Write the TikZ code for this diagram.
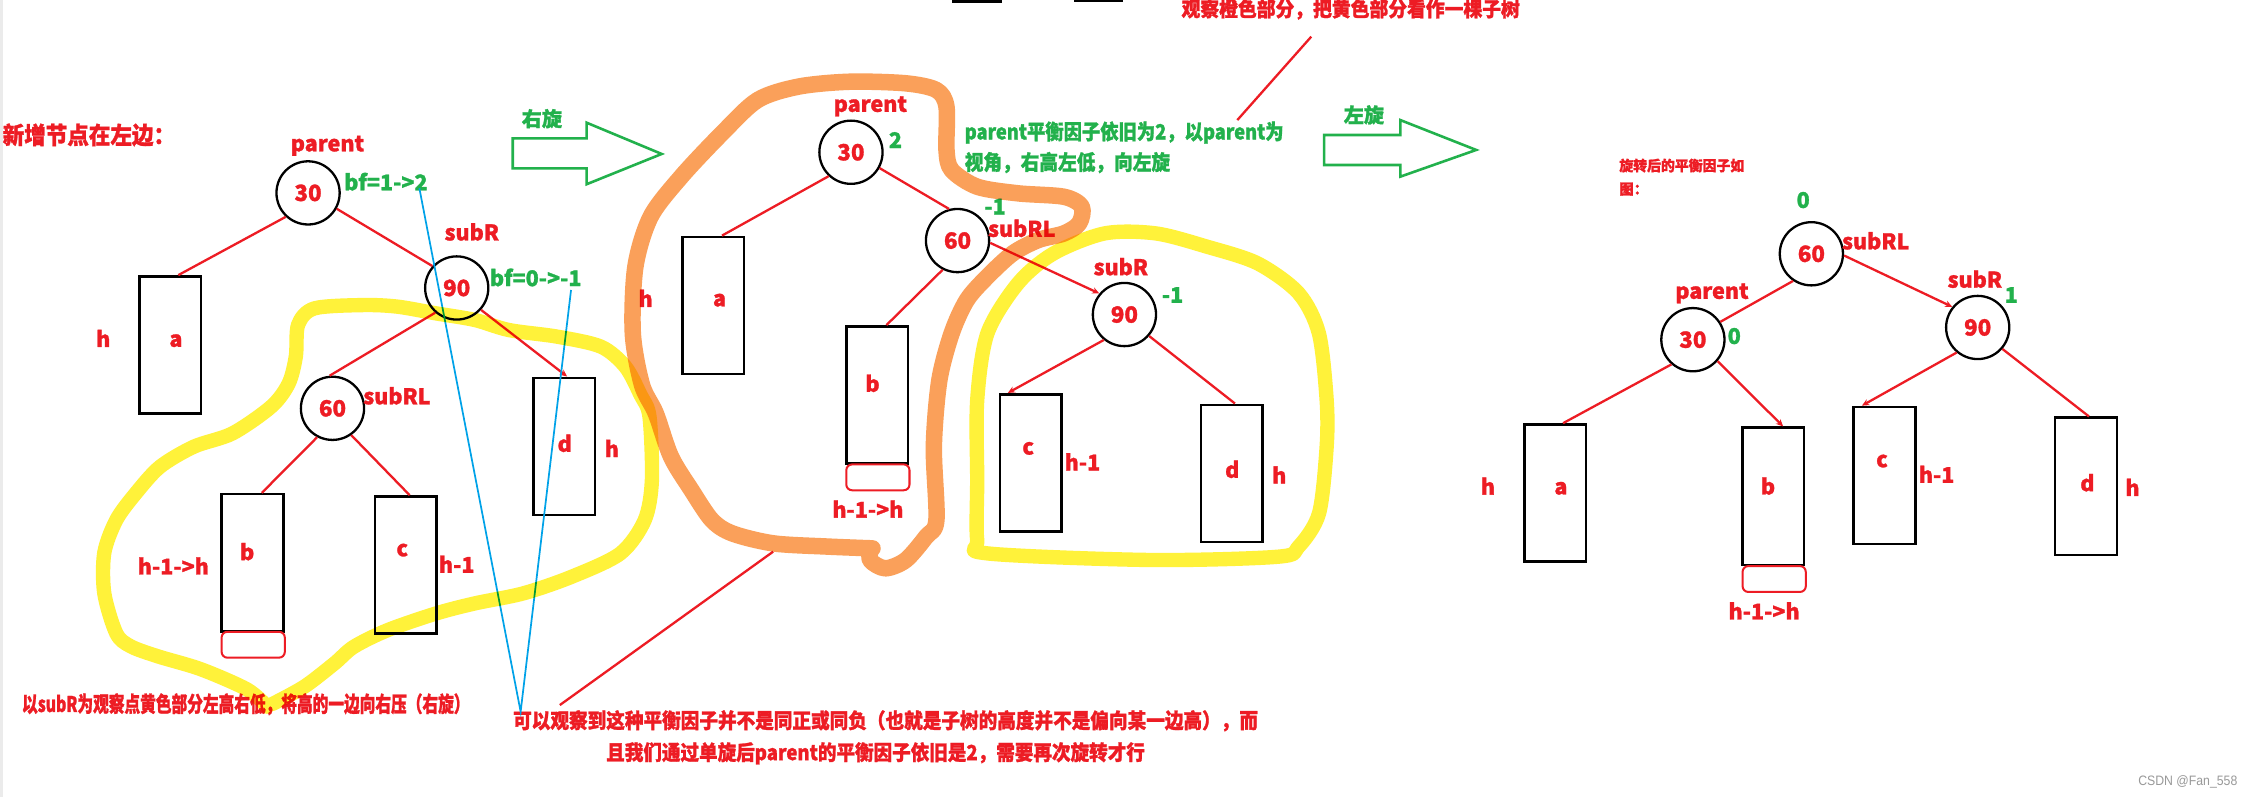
\documentclass[tikz,border=0pt]{standalone}
\usepackage{fontspec}
\setmainfont{Noto Sans CJK SC}[BoldFeatures={FakeBold=1.3}]
\newfontfamily\wmfont{Liberation Sans}
\usepackage{graphicx}
\usetikzlibrary{arrows.meta}
\definecolor{pred}{RGB}{237,28,36}
\definecolor{pgreen}{RGB}{34,177,76}
\definecolor{pyellow}{RGB}{255,242,58}
\definecolor{porange}{RGB}{250,160,90}
\definecolor{pblue}{RGB}{0,162,232}
\newcommand\fitx[2]{\resizebox{#1}{\height}{#2}}
\begin{document}
\begin{tikzpicture}[x=1pt,y=-1pt,
  lab/.style={text=pred,font=\bfseries\fontsize{15}{15}\selectfont,inner sep=0pt},
  glab/.style={lab,text=pgreen},
  tnode/.style={circle,draw=black,line width=1.6pt,minimum size=44pt,inner sep=0pt,text=pred,font=\bfseries\fontsize{15.5}{15.5}\selectfont},
  sbox/.style={draw=black,line width=1.8pt,minimum width=43pt,minimum height=95.5pt,inner sep=0pt},
  rbox/.style={draw=pred,line width=1.4pt,rounded corners=4pt,minimum width=44pt,minimum height=18pt,inner sep=0pt},
  redline/.style={draw=pred,line width=1.6pt},
  arr/.style={redline,-{Stealth[length=5pt,width=4.5pt]}},
  note/.style={anchor=west,inner sep=0pt,text=pred},
  hl/.style={line width=10pt,line cap=round,line join=round},
]
\useasboundingbox (0,0) rectangle (1568,555);
\fill[white] (0,0) rectangle (1568,555);
\draw[black!8, line width=2pt] (1,0) -- (1,555);
\fill[black] (662.6,0) rectangle (698,2.2);
\fill[black] (748,0) rectangle (781.6,1.2);

% ---------- texts ----------
\node[note,font=\bfseries\fontsize{16.5}{16.5}\selectfont] (title) at (1.7,94) {\fitx{120pt}{新增节点在左边：}};
\node[note,font=\bfseries\fontsize{15}{15}\selectfont] (note1) at (15.2,490.4) {\fitx{311.5pt}{以subR为观察点黄色部分左高右低，将高的一边向右压（右旋）}};
\node[note,font=\bfseries\fontsize{14.5}{14.5}\selectfont] (note2) at (357.1,501.9) {\fitx{518.6pt}{可以观察到这种平衡因子并不是同正或同负（也就是子树的高度并不是偏向某一边高），而}};
\node[note,font=\bfseries\fontsize{14.5}{14.5}\selectfont] (note3) at (421.9,524.5) {\fitx{375pt}{且我们通过单旋后parent的平衡因子依旧是2，需要再次旋转才行}};
\node[note,text=pgreen,font=\bfseries\fontsize{14.5}{14.5}\selectfont] (gnote1) at (671.5,92.3) {\fitx{222pt}{parent平衡因子依旧为2，以parent为}};
\node[note,text=pgreen,font=\bfseries\fontsize{14.5}{14.5}\selectfont] (gnote2) at (671.5,113.2) {\fitx{143pt}{视角，右高左低，向左旋}};
\node[note,font=\bfseries\fontsize{14}{14}\selectfont] (obs) at (822.5,6.5) {\fitx{235.5pt}{观察橙色部分，把黄色部分看作一棵子树}};
\node[note,font=\bfseries\fontsize{10}{10}\selectfont] (after1) at (1127.3,115.3) {\fitx{87pt}{旋转后的平衡因子如}};
\node[note,font=\bfseries\fontsize{10}{10}\selectfont] (after2) at (1127.3,131.7) {图：};
\node[note,text=black!40,font=\wmfont\fontsize{9.5}{9.5}\selectfont] (wm) at (1488.6,544.3) {\fitx{69pt}{CSDN @Fan\_558}};

% ---------- block arrows ----------
\draw[pgreen,line width=1.8pt,line join=miter] (357,96.3) -- (408.4,96.3) -- (408.4,85.4) -- (460.7,107.2) -- (408.4,128.3) -- (408.4,117.2) -- (357,117.2) -- cycle;
\node[glab,font=\bfseries\fontsize{14}{14}\selectfont] (rot1) at (377.3,82.6) {右旋};
\draw[pgreen,line width=1.8pt,line join=miter] (921.9,94) -- (975,94) -- (975,83.6) -- (1027.8,104.4) -- (975,123) -- (975,114.9) -- (921.9,114.9) -- cycle;
\node[glab,font=\bfseries\fontsize{14}{14}\selectfont] (rot2) at (949.6,80) {左旋};

% ---------- left tree ----------
\node[tnode] (L30) at (214.5,134.3) {30};
\node[tnode] (L90) at (318,200.5) {90};
\node[tnode] (L60) at (231.5,284.3) {60};
\node[sbox] (La) at (118.45,240.2) {};
\node[sbox] (Ld) at (392.85,310.8) {};
\node[sbox] (Lb) at (175.8,391.8) {};
\node[sbox] (Lc) at (282.5,393.4) {};
\node[rbox] (Lbx) at (176.3,448.9) {};
\node[lab] (Lpar) at (228,101.5) {parent};
\node[glab] (Lbf1) at (268.7,126.5) {bf=1->2};
\node[lab] (LsubR) at (328.5,161.5) {subR};
\node[glab] (Lbf2) at (373,193.2) {bf=0->-1};
\node[lab] (LsubRL) at (276.4,275.6) {subRL};
\node[lab] (Lta) at (122.5,237.2) {a};
\node[lab] (Lha) at (71.9,235.6) {h};
\node[lab] (Ltb) at (172.1,384.1) {b};
\node[lab] (Lhb) at (120.7,394) {h-1->h};
\node[lab] (Ltc) at (280.1,383) {c};
\node[lab] (Lhc) at (318,392.8) {h-1};
\node[lab] (Ltd) at (393.2,308.7) {d};
\node[lab] (Lhd) at (426,312.2) {h};
\draw[redline] (L30.227) -- ([xshift=5.7pt]La.north);
\draw[redline] (L30.331) -- (L90.138);
\draw[redline] (L90.229) -- (L60.95);
\draw[arr] (L90.318) -- ([xshift=2pt]Ld.north);
\draw[redline] (L60.242) -- ([xshift=6.5pt]Lb.north);
\draw[redline] (L60.305) -- ([xshift=2.7pt]Lc.north);

% ---------- middle tree ----------
\node[tnode] (M30) at (592.5,106) {30};
\node[tnode] (M60) at (666.7,167.5) {60};
\node[tnode] (M90) at (782.9,219) {90};
\node[sbox] (Ma) at (496.5,212.7) {};
\node[sbox] (Mb) at (610.7,275) {};
\node[rbox] (Mbx) at (611.25,332.35) {};
\node[sbox] (Mc) at (717.7,322.25) {};
\node[sbox] (Md) at (857.65,329.6) {};
\node[lab] (Mpar) at (606,74) {parent};
\node[glab] (Mbf30) at (623.5,97.5) {2};
\node[glab] (Mbf60) at (692.8,143.9) {-1};
\node[lab] (MsubRL) at (711.4,159) {subRL};
\node[lab] (MsubR) at (780.4,185.7) {subR};
\node[glab] (Mbf90) at (816.4,205.4) {-1};
\node[lab] (Mta) at (501,209) {a};
\node[lab] (Mha) at (449.5,207.7) {h};
\node[lab] (Mtb) at (607.5,266.9) {b};
\node[lab] (Mhb) at (604.3,354.4) {h-1->h};
\node[lab] (Mtc) at (715.9,312.2) {c};
\node[lab] (Mhc) at (753.7,321.5) {h-1};
\node[lab] (Mtd) at (858,326.8) {d};
\node[lab] (Mhd) at (890.7,330.7) {h};
\draw[redline] (M30.227) -- ([xshift=6.2pt]Ma.north);
\draw[redline] (M30.331) -- (M60.105);
\draw[redline] (M60.243) -- ([xshift=6.5pt]Mb.north);
\draw[arr] (M60.356) -- (M90.140);
\draw[arr] (M90.231) -- ([xshift=-16pt]Mc.north);
\draw[redline] (M90.319) -- ([xshift=2.2pt]Md.north);

% ---------- right tree ----------
\node[tnode] (R60) at (1261.2,176.7) {60};
\node[tnode] (R30) at (1178.7,236.5) {30};
\node[tnode] (R90) at (1377,228) {90};
\node[sbox] (Ra) at (1082.8,343.3) {};
\node[sbox] (Rb) at (1234.55,345.6) {};
\node[rbox] (Rbx) at (1235.3,403.15) {};
\node[sbox] (Rc) at (1312.1,331.1) {};
\node[sbox] (Rd) at (1452.45,338.6) {};
\node[glab] (Rbf60) at (1255.5,139.3) {0};
\node[lab] (RsubRL) at (1306,167.7) {subRL};
\node[lab] (Rpar) at (1192,204.2) {parent};
\node[glab] (Rbf30) at (1207.5,234) {0};
\node[lab] (RsubR) at (1375,194.4) {subR};
\node[glab] (Rbf90) at (1400.4,205.4) {1};
\node[lab] (Rta) at (1086.8,340) {a};
\node[lab] (Rha) at (1036,338.4) {h};
\node[lab] (Rtb) at (1231,338.4) {b};
\node[lab] (Rhb) at (1228.3,425.3) {h-1->h};
\node[lab] (Rtc) at (1310.4,321) {c};
\node[lab] (Rhc) at (1348.4,330.2) {h-1};
\node[lab] (Rtd) at (1453.4,336.1) {d};
\node[lab] (Rhd) at (1484.8,339.3) {h};
\draw[redline] (R60.236) -- (R30.33);
\draw[arr] (R60.357) -- (R90.141);
\draw[redline] (R30.229) -- ([xshift=5.5pt]Ra.north);
\draw[arr] (R30.319) -- ([xshift=7pt]Rb.north);
\draw[arr] (R90.230) -- ([xshift=-15.7pt]Rc.north);
\draw[redline] (R90.319) -- ([xshift=2pt]Rd.north);

% ---------- pointer lines ----------
\coordinate (bfA) at (292,131.1);
\coordinate (bfB) at (397.6,201.9);
\coordinate (bconv) at (362.5,495.5);
\draw[pblue,line width=1.2pt] (bfA) -- (bconv) -- (bfB);
\coordinate (oBot) at (538.3,384.1);
\coordinate (n2top) at (389.8,490.9);
\draw[redline] (oBot) -- (n2top);
\coordinate (obsEnd) at (913,25.5);
\coordinate (gTop) at (861.5,83.6);
\draw[redline] (obsEnd) -- (gTop);

% ---------- highlighter strokes ----------
\begin{scope}[blend mode=multiply]
\draw[porange,hl,line width=11.5pt] plot[smooth] coordinates {(607.5,381.8) (575,380.5) (538.3,378.3) (509.9,371.4) (495.6,362.1) (481.4,341.2) (467.2,318) (456.6,287.8) (447,268) (440.6,232.1) (442.4,185.7) (453,150.9) (474.3,123) (502.7,92.8) (527.6,69.6) (556,60.3) (591.6,56.9) (630.6,58) (652,62.7) (659,74.3) (659,104.4) (662.6,118.4) (680.4,130) (708.8,134.6) (740.8,137) (753.2,143.9) (751.4,155.5) (740.8,162.5) (723,167.1) (705.2,176.4) (687.5,192.6) (673.2,208.9) (662.6,232.1) (654,265) (650.2,311) (652,362.1) (644.8,373.7) (630.6,390) (616.4,395.7) (605.8,390) (606.5,382)};
\draw[pyellow,hl] plot[smooth] coordinates {(186,492) (172,480) (140,466) (110,457) (91,450) (81,441) (72.6,413) (72.6,385) (81,362) (94.5,343.5) (111.4,325) (135,311) (162,301.7) (189,283) (201,267) (206,248) (207.6,226) (219,214.7) (253,212.4) (276.7,213.5) (303.7,218.2) (330.7,222.8) (354.4,229.8) (388,234.4) (418.5,241.4) (435.4,255.3) (446,275) (452.2,290) (453.9,334.2) (448.9,362.1) (432,385.3) (398.2,401.5) (364.5,413.1) (330.7,420.1) (303.7,427.1) (270,438.7) (246.4,450.3) (232.9,461.9) (212,478) (190,490)};
\draw[pyellow,hl] plot[smooth cycle] coordinates {(680.4,278.5) (687.5,232.1) (708.8,197.3) (733.7,176.4) (769.2,162.5) (804.7,162.5) (840.2,171.7) (875.7,183.4) (904.2,204.2) (918.3,232.1) (923.7,278.5) (923.7,311) (918.4,357.4) (904.2,380.6) (890,387.6) (801.2,389.9) (687.5,385.3) (680.4,376) (680.4,334.2)};
\end{scope}
\end{tikzpicture}
\end{document}
